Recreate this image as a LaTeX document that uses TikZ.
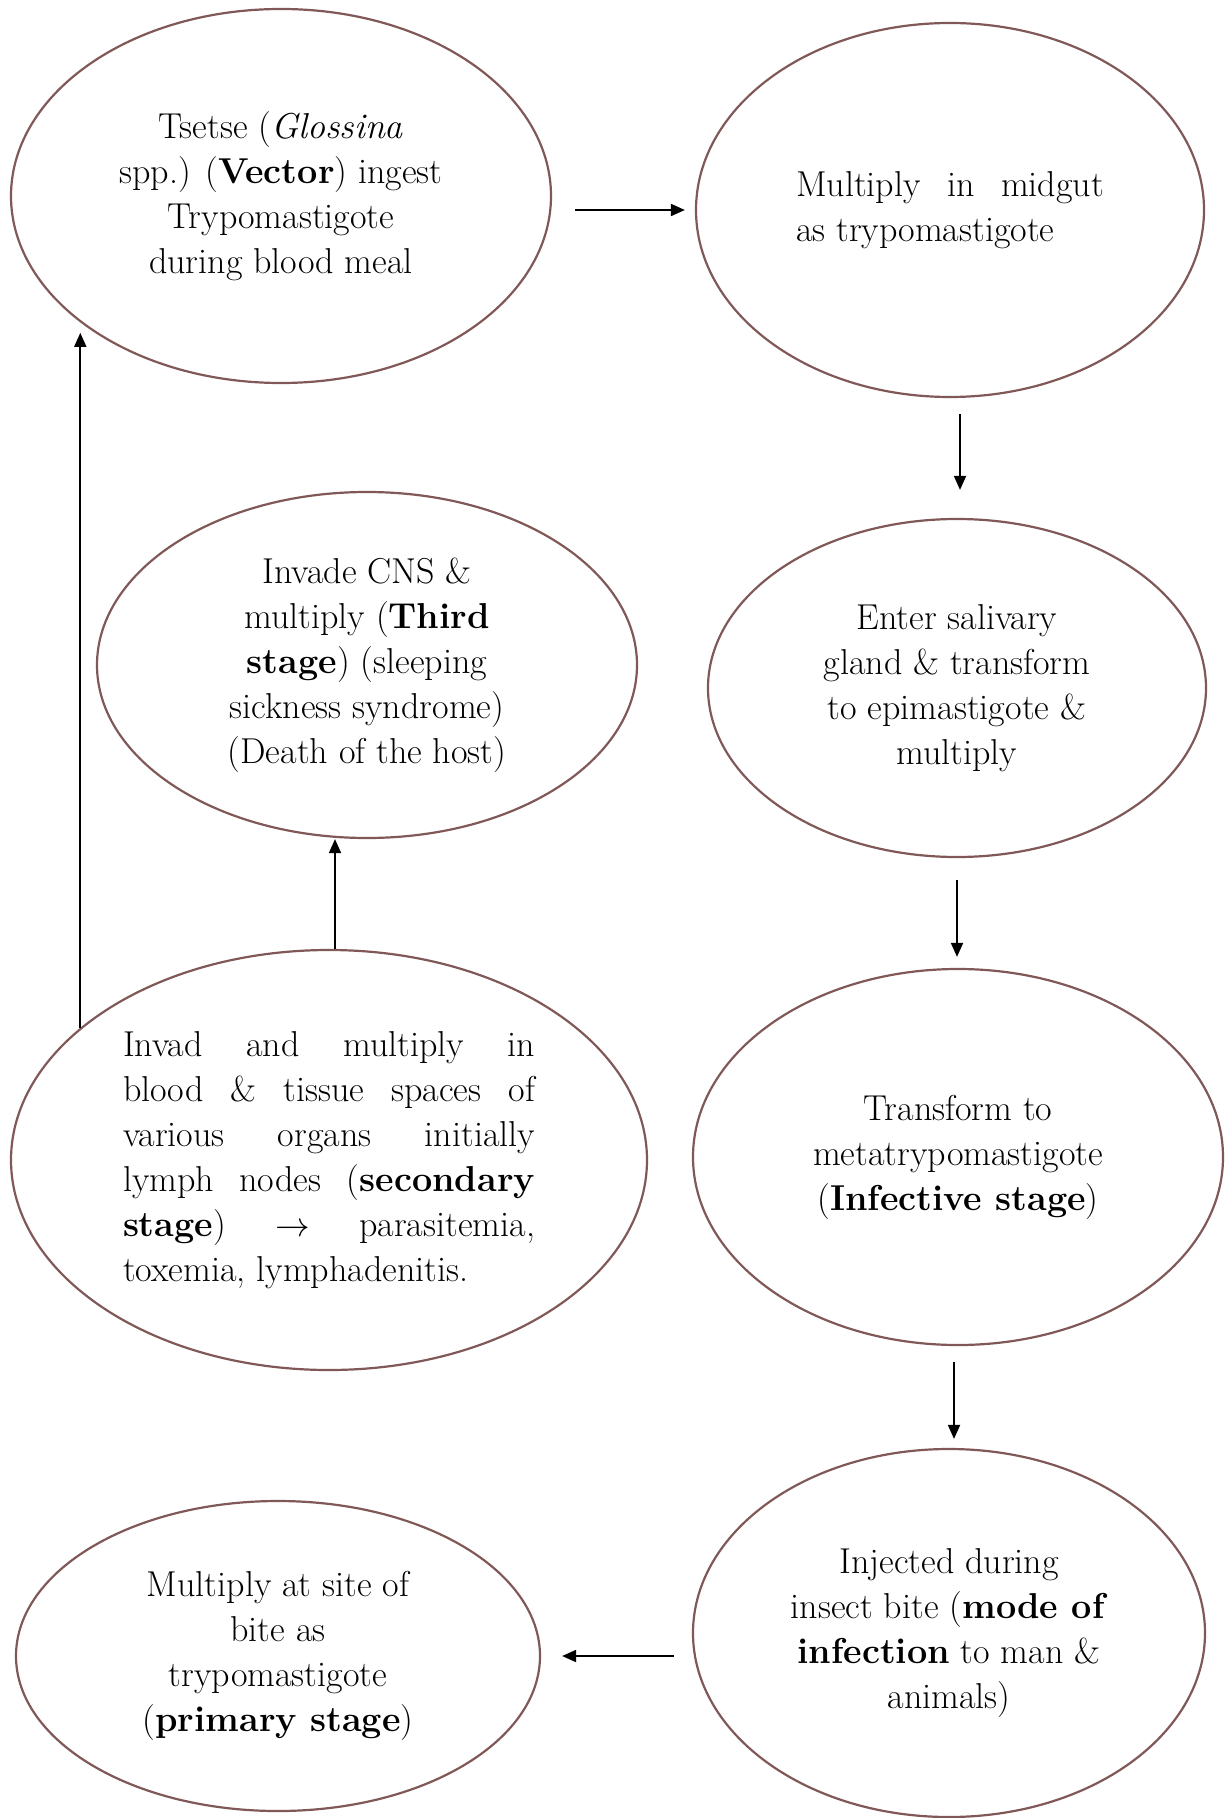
\documentclass[tikz,border=0pt]{standalone}
\usepackage{fontspec}
\usetikzlibrary{shapes.geometric,arrows.meta}
\definecolor{rim}{RGB}{128,88,88}
\tikzset{stage/.style={ellipse,draw=rim,line width=1.1pt,inner sep=0pt,align=center,
    font=\fontsize{18}{22.5}\selectfont},
  arr/.style={-{Triangle[length=7pt,width=6pt]},line width=0.9pt}}

\begin{document}
\begin{tikzpicture}[x=0.5pt,y=-0.5pt]
  \useasboundingbox (0,0) rectangle (1225,1818);
      \node[stage,minimum width=270pt,minimum height=187pt] (tsetse) at (281,196)
        {Tsetse (\textit{Glossina}\\ spp.) (\textbf{Vector}) ingest\\ Trypomastigote\\ during blood meal};
      \node[stage,minimum width=254pt,minimum height=187pt,align=justify,text width=154pt] (midgut) at (950,210)
        {Multiply in midgut\linebreak as trypomastigote};
      \node[stage,minimum width=249pt,minimum height=169pt] (gland) at (957,688)
        {Enter salivary\\ gland \& transform\\ to epimastigote \&\\ multiply};
      \node[stage,minimum width=270pt,minimum height=173pt] (cns) at (367,665)
        {Invade CNS \&\\ multiply (\textbf{Third}\\ \textbf{stage}) (sleeping\\ sickness syndrome)\\ (Death of the host)};
      \node[stage,minimum width=265pt,minimum height=188pt] (meta) at (958,1157)
        {Transform to\\ metatrypomastigote\\ (\textbf{Infective stage})};
      \node[stage,minimum width=318pt,minimum height=210pt,align=justify,text width=206pt] (blood) at (329,1160)
        {\hyphenpenalty=10000 Invad and multiply in\linebreak blood \& tissue spaces of\linebreak various organs initially\linebreak
         lymph nodes (\textbf{secondary}\linebreak \textbf{stage}) $\rightarrow$ parasitemia,\linebreak toxemia, lymphadenitis.};
      \node[stage,minimum width=256pt,minimum height=184pt] (bite) at (949,1633)
        {Injected during\\ insect bite (\textbf{mode of}\\ \textbf{infection} to man \&\\ animals)};
      \node[stage,minimum width=262pt,minimum height=155pt] (site) at (278,1656)
        {Multiply at site of\\ bite as\\ trypomastigote\\ (\textbf{primary stage})};

\draw[arr,shorten <=11.5pt,shorten >=5pt] (tsetse.east |- midgut.west) -- (midgut.west);
\draw[arr,shorten <=8pt,shorten >=14pt] ([xshift=5pt]midgut.south) -- ([xshift=5pt]midgut.south |- gland.north);
\draw[arr,shorten <=11pt,shorten >=5.5pt] (gland.south) -- (gland.south |- meta.north);
\draw[arr,shorten <=8pt,shorten >=4.5pt] ([xshift=-2pt]meta.south) -- ([xshift=-2pt]meta.south |- bite.north);
\draw[arr,shorten <=9pt,shorten >=10.5pt] (bite.west |- site.east) -- (site.east);
\draw[arr] ([xshift=3pt]blood.north) -- ([xshift=3pt]blood.north |- cns.south);
\draw[arr,shorten >=5.5pt] (blood.152) -- (blood.152 |- tsetse.212);
    \end{tikzpicture}
\end{document}
